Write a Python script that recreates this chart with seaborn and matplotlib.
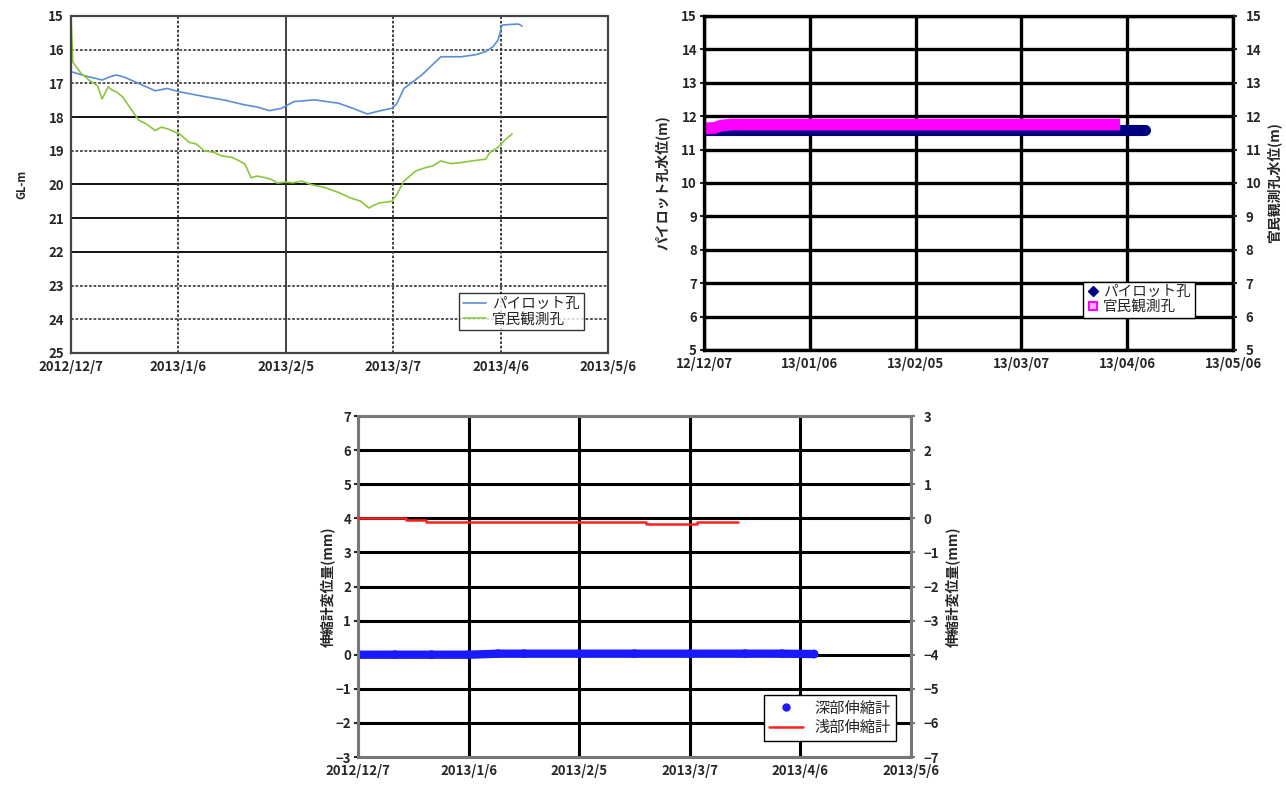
import pandas as pd
import numpy as np
import matplotlib
matplotlib.use('Agg')
import matplotlib.pyplot as plt
from matplotlib.lines import Line2D
import seaborn as sns

sns.set_style('white')
plt.rcParams['font.family'] = ['Noto Sans CJK JP', 'DejaVu Sans']
plt.rcParams['axes.unicode_minus'] = False

start = pd.Timestamp('2012-12-07')
tick_days = [0, 30, 60, 90, 120, 150]
tick_labels_a = ['2012/12/7', '2013/1/6', '2013/2/5', '2013/3/7', '2013/4/6', '2013/5/6']
tick_labels_b = ['12/12/07', '13/01/06', '13/02/05', '13/03/07', '13/04/06', '13/05/06']

# chart 1 : depth of water level (GL-m)
pilot_days = [0, 4, 8.7, 11, 12.7, 15, 17.8, 21, 23.5, 26.9, 30.3, 37.2, 43, 48.6, 52, 55.4, 58.8,
              62.3, 68, 74.8, 79, 82.8, 86, 89.6, 91, 93, 98, 103.3, 109, 113, 115.8, 118, 119.3,
              120.4, 123, 125, 126]
pilot_depth = [16.65, 16.78, 16.9, 16.8, 16.75, 16.82, 16.95, 17.1, 17.22, 17.15, 17.25, 17.39, 17.5,
               17.64, 17.7, 17.81, 17.74, 17.54, 17.49, 17.59, 17.75, 17.91, 17.82, 17.74, 17.6, 17.15,
               16.75, 16.21, 16.21, 16.15, 16.06, 15.9, 15.71, 15.27, 15.25, 15.24, 15.3]
kanmin_days = [0, 0.5, 2.8, 5, 7.4, 8.7, 10.4, 11.5, 12.7, 14.4, 17, 19, 21, 23.5, 25.2, 27, 30.3, 33,
               35, 37.2, 40, 42, 45.1, 47, 48.6, 50.3, 52, 54.3, 56, 57.6, 60, 62, 64.5, 67, 71.2, 75,
               78.1, 81, 83.2, 84.5, 86, 89.6, 91, 93, 96.3, 99, 101, 103.3, 106, 109, 112, 115.8, 117,
               119.3, 121, 123.2]
kanmin_depth = [15.0, 16.37, 16.7, 16.9, 17.07, 17.46, 17.1, 17.2, 17.25, 17.4, 17.8, 18.1, 18.2, 18.4,
                18.3, 18.35, 18.5, 18.75, 18.8, 19.0, 19.05, 19.15, 19.2, 19.3, 19.4, 19.8, 19.75, 19.8,
                19.85, 19.96, 19.93, 19.95, 19.9, 20.0, 20.1, 20.25, 20.4, 20.5, 20.7, 20.62, 20.55,
                20.5, 20.3, 19.9, 19.6, 19.5, 19.45, 19.3, 19.38, 19.35, 19.3, 19.25, 19.05, 18.9, 18.7,
                18.5]

# chart 2 : water level (m)
pilot_lv_days = [0, 8, 20, 35, 50, 65, 80, 95, 110, 118, 122, 125]
pilot_lv = [11.6, 11.6, 11.6, 11.6, 11.6, 11.6, 11.6, 11.6, 11.6, 11.6, 11.6, 11.6]
kanmin_lv_days = [0, 3, 5, 8, 20, 35, 50, 65, 80, 95, 110, 118]
kanmin_lv = [11.63, 11.65, 11.72, 11.75, 11.75, 11.75, 11.75, 11.75, 11.75, 11.75, 11.75, 11.75]

# chart 3 : extensometers (mm)
deep_days = [0, 10, 20, 30, 38, 45, 60, 75, 90, 105, 115, 123.7]
deep_mm = [0.0, 0.0, 0.0, 0.0, 0.03, 0.03, 0.03, 0.03, 0.03, 0.03, 0.03, 0.02]
shallow_days = [0, 12.5, 13, 18.4, 30, 50, 70, 76, 78, 90, 92, 103]
shallow_mm = [0.0, 0.0, -0.05, -0.12, -0.12, -0.12, -0.12, -0.12, -0.17, -0.17, -0.12, -0.12]


def to_dates(days):
    return [start + pd.Timedelta(days=d) for d in days]


tick_dates = to_dates(tick_days)
lab_font = dict(fontsize=9.5, fontweight='bold')

fig = plt.figure(figsize=(12.86, 7.87), dpi=100)

# ---------------- chart 1 ----------------
ax1 = fig.add_axes([0.0552, 0.5515, 0.4176, 0.4282])
sns.lineplot(x=to_dates(pilot_days), y=pilot_depth, ax=ax1, color='#5b8fd6', lw=1.2)
sns.lineplot(x=to_dates(kanmin_days), y=kanmin_depth, ax=ax1, color='#8cc63f', lw=1.2)
ax1.set_ylim(25, 15)
ax1.set_xlim(tick_dates[0], tick_dates[-1])
ax1.set_yticks(range(15, 26))
ax1.set_yticklabels([str(v) for v in range(15, 26)], **lab_font)
ax1.set_xticks(tick_dates)
ax1.set_xticklabels(tick_labels_a, **lab_font)
solid_h = [18, 20, 21, 22]
for v in range(16, 25):
    if v in solid_h:
        ax1.axhline(v, color='black', lw=1.3, zorder=0)
    else:
        ax1.axhline(v, color='#444444', lw=1.3, ls=(0, (1.5, 1)), zorder=0)
for i, d in enumerate(tick_dates[1:-1]):
    ax1.axvline(d, color='#333333', lw=1.3, ls='-' if i == 1 else (0, (1.5, 1)), zorder=0)
for s in ax1.spines.values():
    s.set_color('#444444')
    s.set_linewidth(1.6)
    s.set_linestyle((0, (1.5, 1)))
ax1.tick_params(length=3, width=1, pad=2)
ax1.set_ylabel('GL-m', fontsize=8, fontweight='bold', labelpad=14)
h1 = [Line2D([], [], color='#5b8fd6', lw=1.2), Line2D([], [], color='#8cc63f', lw=1.2)]
ax1.legend(h1, ['パイロット孔', '官民観測孔'], loc='lower right', bbox_to_anchor=(0.968, 0.047),
           fontsize=10.5, frameon=True, fancybox=False, edgecolor='black', handlelength=1.6,
           borderpad=0.25, labelspacing=0.1, handletextpad=0.4)

# ---------------- chart 2 ----------------
ax2 = fig.add_axes([0.5474, 0.5553, 0.4114, 0.4244])
sns.lineplot(x=to_dates(pilot_lv_days), y=pilot_lv, ax=ax2, color='#000080', lw=8,
             solid_capstyle='round')
sns.lineplot(x=to_dates(kanmin_lv_days), y=kanmin_lv, ax=ax2, color='#ff00ff', lw=8.5,
             solid_capstyle='butt')
ax2.set_ylim(5, 15)
ax2.set_xlim(tick_dates[0], tick_dates[-1])
ax2.set_yticks(range(5, 16))
ax2.set_yticklabels([str(v) for v in range(5, 16)], **lab_font)
ax2.set_xticks(tick_dates)
ax2.set_xticklabels(tick_labels_b, **lab_font)
ax2.grid(True, color='black', lw=2.4)
ax2.set_axisbelow(True)
for s in ax2.spines.values():
    s.set_color('black')
    s.set_linewidth(2.4)
ax2.tick_params(length=3, width=1.5, pad=2)
ax2.set_ylabel('パイロット孔水位(m)', fontsize=10, fontweight='bold', labelpad=8)
ax2r = ax2.twinx()
ax2r.set_ylim(5, 15)
ax2r.set_yticks(range(5, 16))
ax2r.set_yticklabels([str(v) for v in range(5, 16)], **lab_font)
ax2r.tick_params(length=3, width=1.5, pad=6)
ax2r.set_ylabel('官民観測孔水位(m)', fontsize=10, fontweight='bold', labelpad=4)
for s in ax2r.spines.values():
    s.set_visible(False)
h2 = [Line2D([], [], color='#000080', marker='D', ls='', ms=5),
      Line2D([], [], color='#ff00ff', marker='s', ls='', ms=6, mfc='#ffb0ff', mew=1.5)]
ax2.legend(h2, ['パイロット孔', '官民観測孔'], loc='lower right', bbox_to_anchor=(0.941, 0.075),
           fontsize=10.5, frameon=True, fancybox=False, edgecolor='black', handlelength=0.8,
           handletextpad=0.3, borderpad=0.25, labelspacing=0.05, framealpha=1)

# ---------------- chart 3 ----------------
ax3 = fig.add_axes([0.2784, 0.0381, 0.43, 0.4333])
sns.lineplot(x=to_dates(deep_days), y=deep_mm, ax=ax3, color='#1a1aff', lw=6,
             solid_capstyle='round')
sns.scatterplot(x=to_dates(deep_days), y=deep_mm, ax=ax3, color='#1a1aff', s=40,
                edgecolor='none')
ax3.set_ylim(-3, 7)
ax3.set_xlim(tick_dates[0], tick_dates[-1])
ax3.set_yticks(range(-3, 8))
ax3.set_yticklabels(['−' + str(-v) if v < 0 else str(v) for v in range(-3, 8)], **lab_font)
ax3.set_xticks(tick_dates)
ax3.set_xticklabels(tick_labels_a, **lab_font)
ax3.grid(True, color='black', lw=2.2)
ax3.set_axisbelow(True)
for s in ax3.spines.values():
    s.set_color('#777777')
    s.set_linewidth(2.2)
ax3.tick_params(length=3, width=1.5, pad=2)
ax3.set_ylabel('伸縮計変位量(mm)', fontsize=10, fontweight='bold', labelpad=0)
ax3r = ax3.twinx()
sns.lineplot(x=to_dates(shallow_days), y=shallow_mm, ax=ax3r, color='#ff2020', lw=1.8,
             drawstyle='steps-post')
ax3r.set_ylim(-7, 3)
ax3r.set_yticks(range(-7, 4))
ax3r.set_yticklabels(['−' + str(-v) if v < 0 else str(v) for v in range(-7, 4)], **lab_font)
ax3r.tick_params(length=3, width=1.5, pad=6, color='#777777')
ax3r.set_ylabel('伸縮計変位量(mm)', fontsize=10, fontweight='bold', labelpad=4)
for s in ax3r.spines.values():
    s.set_visible(False)
h3 = [Line2D([], [], color='#1a1aff', marker='o', ls='', ms=5),
      Line2D([], [], color='#ff2020', lw=1.8)]
ax3.legend(h3, ['深部伸縮計', '浅部伸縮計'], loc='lower right', bbox_to_anchor=(0.986, 0.026),
           fontsize=11, frameon=True, fancybox=False, edgecolor='black', handlelength=2.2,
           borderpad=0.3, labelspacing=0.15, framealpha=1)

fig.savefig('out.png', dpi=100)
